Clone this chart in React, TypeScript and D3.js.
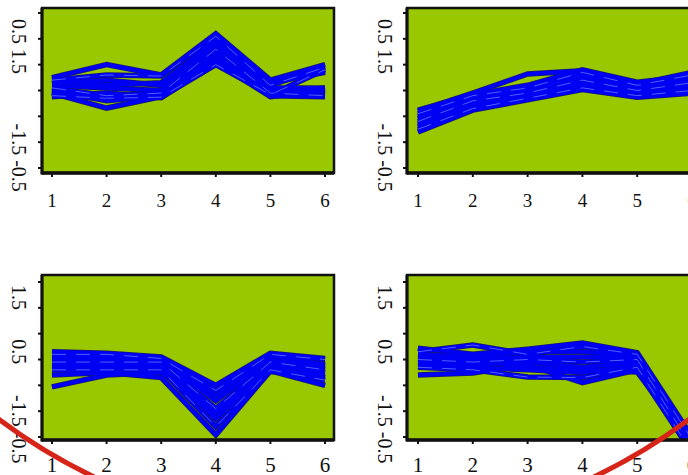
import React, { useEffect, useRef } from 'react';
import * as d3 from 'd3';

// x categories shared by all four panels
const xCategories = [1, 2, 3, 4, 5, 6];
const yTickValues = [-1, -0.5, 0, 0.5, 1, 1.5, 2];

// y tick label texts as printed in the figure, with the value they sit at
const topYLabels = ['0.5 1.5', '-1.5 -0.5'];
const topYLabelAt = [1.35, -0.8];
const bottomYLabels = ['1.5', '0.5', '-1.5 -0.5'];
const bottomYLabelAt = [1.7, 0.65, -0.85];

const seriesTopLeft = [
  [0.75, 1.0, 0.8, 1.6, 0.7, 1.0],
  [0.7, 0.8, 0.78, 1.55, 0.6, 0.95],
  [0.65, 0.7, 0.6, 1.5, 0.55, 0.55],
  [0.6, 0.55, 0.5, 1.4, 0.5, 0.5],
  [0.55, 0.4, 0.45, 1.3, 0.45, 0.4],
  [0.5, 0.3, 0.4, 1.2, 0.45, 0.55],
  [0.45, 0.16, 0.38, 1.1, 0.4, 0.38],
  [0.4, 0.35, 0.37, 1.0, 0.42, 0.9],
  [0.7, 0.6, 0.65, 1.45, 0.65, 0.85],
  [0.38, 0.45, 0.36, 1.05, 0.38, 0.5],
];

const seriesTopRight = [
  [0.1, 0.45, 0.82, 0.88, 0.62, 0.85],
  [0.05, 0.4, 0.55, 0.85, 0.6, 0.8],
  [0.0, 0.38, 0.5, 0.8, 0.58, 0.75],
  [-0.05, 0.35, 0.48, 0.75, 0.55, 0.7],
  [-0.1, 0.3, 0.45, 0.7, 0.5, 0.65],
  [-0.15, 0.25, 0.42, 0.65, 0.48, 0.6],
  [-0.2, 0.2, 0.4, 0.6, 0.45, 0.55],
  [-0.25, 0.15, 0.35, 0.55, 0.4, 0.5],
  [-0.3, 0.12, 0.32, 0.52, 0.37, 0.45],
  [0.12, 0.42, 0.6, 0.9, 0.66, 0.78],
];

const seriesBottomLeft = [
  [0.65, 0.62, 0.55, 0.0, 0.62, 0.52],
  [0.6, 0.6, 0.52, -0.1, 0.6, 0.5],
  [0.55, 0.55, 0.5, -0.2, 0.58, 0.4],
  [0.5, 0.5, 0.48, -0.3, 0.5, 0.35],
  [0.45, 0.45, 0.45, -0.45, 0.45, 0.3],
  [0.4, 0.4, 0.4, -0.55, 0.4, 0.25],
  [0.35, 0.38, 0.35, -0.65, 0.35, 0.15],
  [0.3, 0.3, 0.3, -0.8, 0.3, 0.1],
  [0.2, 0.25, 0.15, -0.96, 0.28, 0.0],
  [-0.03, 0.2, 0.25, -0.5, 0.27, 0.2],
];

const seriesBottomRight = [
  [0.72, 0.6, 0.7, 0.82, 0.63, -1.0],
  [0.65, 0.78, 0.6, 0.75, 0.6, -1.05],
  [0.6, 0.55, 0.65, 0.65, 0.58, -1.1],
  [0.55, 0.5, 0.55, 0.55, 0.55, -1.15],
  [0.5, 0.45, 0.5, 0.45, 0.5, -1.2],
  [0.45, 0.4, 0.45, 0.35, 0.45, -1.2],
  [0.4, 0.35, 0.3, 0.25, 0.4, -1.25],
  [0.35, 0.3, 0.16, 0.15, 0.35, -1.3],
  [0.2, 0.24, 0.4, 0.05, 0.3, -1.3],
  [0.48, 0.5, 0.35, 0.3, 0.26, -1.15],
];

const W = 688;
const H = 475;
const FONT = "'Liberation Serif', 'Times New Roman', serif";

type Panel = {
  id: string;
  series: number[][];
  box: [number, number, number, number]; // x0, y0, x1, y1
  xRange: [number, number];
  yRange: [number, number];
  labelX: number;
  labels: string[];
  labelAt: number[];
  xLabelY: number;
  xFont: number;
};

export default function App() {
  const ref = useRef<SVGSVGElement>(null);

  useEffect(() => {
    const svg = d3.select(ref.current);
    svg.selectAll('*').remove();

    const panels: Panel[] = [
      { id: 'tl', series: seriesTopLeft, box: [42, 8, 334, 173], xRange: [52, 325], yRange: [168, 13],
        labelX: 12, labels: topYLabels, labelAt: topYLabelAt, xLabelY: 207, xFont: 19 },
      { id: 'tr', series: seriesTopRight, box: [407, 8, 702, 173], xRange: [418, 692], yRange: [168, 13],
        labelX: 378, labels: topYLabels, labelAt: topYLabelAt, xLabelY: 207, xFont: 19 },
      { id: 'bl', series: seriesBottomLeft, box: [42, 275, 334, 440], xRange: [52, 325], yRange: [437, 282],
        labelX: 12, labels: bottomYLabels, labelAt: bottomYLabelAt, xLabelY: 472, xFont: 21 },
      { id: 'br', series: seriesBottomRight, box: [407, 275, 702, 440], xRange: [418, 692], yRange: [437, 282],
        labelX: 378, labels: bottomYLabels, labelAt: bottomYLabelAt, xLabelY: 472, xFont: 21 },
    ];

    const defs = svg.append('defs');

    panels.forEach(p => {
      const [x0, y0, x1, y1] = p.box;
      const x = d3.scaleLinear().domain([1, 6]).range(p.xRange);
      const y = d3.scaleLinear().domain([-1, 2]).range(p.yRange);
      const g = svg.append('g');

      defs.append('clipPath').attr('id', 'clip-' + p.id)
        .append('rect')
        .attr('x', x0).attr('y', y0)
        .attr('width', x1 - x0).attr('height', y1 - y0);

      g.append('rect')
        .attr('x', x0).attr('y', y0)
        .attr('width', x1 - x0).attr('height', y1 - y0)
        .attr('fill', '#99c800')
        .attr('stroke', '#111')
        .attr('stroke-width', 2.5);

      const line = d3.line<number>()
        .x((d, i) => x(xCategories[i]))
        .y(d => y(d));

      const lines = g.append('g').attr('clip-path', 'url(#clip-' + p.id + ')');
      // dark outlines first, then the blue bodies, then faint light streaks
      lines.selectAll('path.edge').data(p.series).enter().append('path')
        .attr('class', 'edge')
        .attr('d', d => line(d))
        .attr('fill', 'none')
        .attr('stroke', '#16167a')
        .attr('stroke-width', 5.5);
      lines.selectAll('path.body').data(p.series).enter().append('path')
        .attr('class', 'body')
        .attr('d', d => line(d))
        .attr('fill', 'none')
        .attr('stroke', '#0000f2')
        .attr('stroke-width', 4);
      lines.selectAll('path.streak').data(p.series.filter((d, i) => i % 3 === 1)).enter().append('path')
        .attr('class', 'streak')
        .attr('d', d => line(d))
        .attr('fill', 'none')
        .attr('stroke', '#7d95ff')
        .attr('stroke-width', 0.8)
        .attr('stroke-dasharray', '14 10')
        .attr('opacity', 0.8);

      // axes: heavier left and bottom lines with outward ticks
      g.append('line')
        .attr('x1', x0).attr('x2', x0).attr('y1', y0).attr('y2', y1 + 1.5)
        .attr('stroke', '#111').attr('stroke-width', 3);
      g.append('line')
        .attr('x1', x0).attr('x2', x1).attr('y1', y1).attr('y2', y1)
        .attr('stroke', '#111').attr('stroke-width', 3.5);

      g.selectAll('line.yt').data(yTickValues).enter().append('line')
        .attr('class', 'yt')
        .attr('x1', x0 - 4).attr('x2', x0)
        .attr('y1', d => y(d)).attr('y2', d => y(d))
        .attr('stroke', '#111').attr('stroke-width', 2);
      g.selectAll('line.xt').data(xCategories).enter().append('line')
        .attr('class', 'xt')
        .attr('x1', d => x(d)).attr('x2', d => x(d))
        .attr('y1', y1).attr('y2', y1 + 4)
        .attr('stroke', '#111').attr('stroke-width', 2);

      g.selectAll('text.xl').data(xCategories).enter().append('text')
        .attr('class', 'xl')
        .attr('x', d => x(d))
        .attr('y', p.xLabelY)
        .attr('text-anchor', 'middle')
        .style('font-family', FONT)
        .attr('font-size', p.xFont)
        .attr('fill', '#111')
        .text(d => String(d));

      g.selectAll('text.yl').data(p.labels).enter().append('text')
        .attr('class', 'yl')
        .attr('transform', (d, i) => `translate(${p.labelX},${y(p.labelAt[i])}) rotate(90)`)
        .attr('text-anchor', 'middle')
        .style('font-family', FONT)
        .attr('font-size', 20)
        .attr('fill', '#111')
        .text(d => d);
    });

    // red annotation arc crossing the lower edge
    svg.append('circle')
      .attr('cx', W / 2).attr('cy', -42).attr('r', 576)
      .attr('fill', 'none')
      .attr('stroke', '#d62418')
      .attr('stroke-width', 5);
  }, []);

  return (
    <svg
      ref={ref}
      width={W}
      height={H}
      style={{ position: 'absolute', left: 0, top: 0, display: 'block', background: '#fff' }}
    />
  );
}
